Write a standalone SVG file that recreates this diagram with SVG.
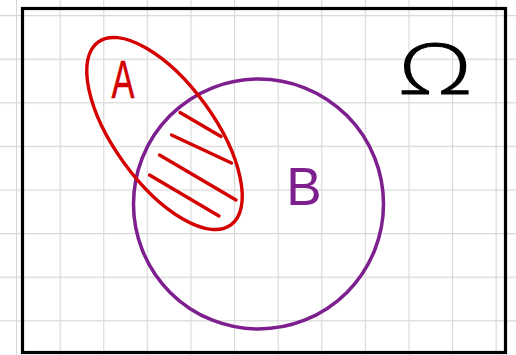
<svg xmlns="http://www.w3.org/2000/svg" width="516" height="355" viewBox="0 0 516 355">
  <defs>
    <pattern id="grid" x="16" y="15" width="43.6" height="43.6" patternUnits="userSpaceOnUse">
      <path d="M0.5 0 V43.6 M0 0.5 H43.6" fill="none" stroke="#d8d8d8" stroke-width="1.3"/>
    </pattern>
    <style>
      .red { fill: none; stroke: #d40000; stroke-width: 3.4; stroke-linecap: round; }
      .purple { fill: none; stroke: #7d1f8e; stroke-width: 3.5; }
      .lbl { font-family: "Liberation Sans", "DejaVu Sans", sans-serif; text-anchor: middle; }
      .omega { font-family: "Open Sans", "Liberation Sans", sans-serif; font-weight: 300; text-anchor: middle; }
    </style>
  </defs>
  <rect x="0" y="0" width="516" height="355" fill="#ffffff"/>
  <rect x="0" y="0" width="516" height="355" fill="url(#grid)"/>
  <g id="omega">
    <rect x="22.5" y="8.5" width="483" height="344" fill="none" stroke="#000" stroke-width="3.2"/>
    <text class="omega" transform="translate(435 94) scale(1.35 1)" font-size="70" fill="#000" stroke="#000" stroke-width="1">Ω</text>
  </g>
  <g id="B">
    <circle class="purple" cx="258.5" cy="204" r="125"/>
    <text class="lbl" x="304" y="205" font-size="53" fill="#7d1f8e">B</text>
  </g>
  <g id="A">
    <ellipse class="red" cx="164.5" cy="133.5" rx="113" ry="50" transform="rotate(54 164.5 133.5)"/>
    <text class="lbl" transform="translate(123 98) scale(0.65 1)" font-size="53" fill="#d40000" stroke="#d40000" stroke-width="0.5">A</text>
  </g>
  <g id="hatching">
    <path class="red" d="M180 112.5 L221 136.5"/>
    <path class="red" d="M171.5 135 L231.5 163"/>
    <path class="red" d="M159.5 155 L236 200"/>
    <path class="red" d="M149.5 175 L219 216"/>
  </g>
</svg>
